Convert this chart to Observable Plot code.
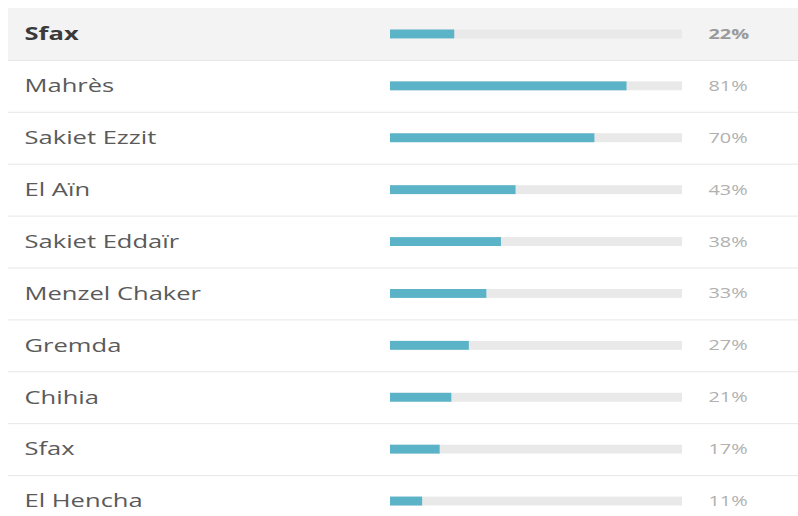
<!DOCTYPE html>
<html><head><meta charset="utf-8">
<script src="https://cdn.jsdelivr.net/npm/d3@7"></script>
<script src="https://cdn.jsdelivr.net/npm/@observablehq/plot@0.6"></script>
<style>body{margin:0;background:#fff;font-family:"Open Sans",sans-serif}</style>
</head><body><div id="chart"></div>
<script>
const labels = ["Sfax","Mahrès","Sakiet Ezzit","El Aïn","Sakiet Eddaïr","Menzel Chaker","Gremda","Chihia","Sfax","El Hencha"];
const values = [22,81,70,43,38,33,27,21,17,11];
const highlighted = [true,false,false,false,false,false,false,false,false,false];

const rows = labels.map((label, i) => ({i, label, value: values[i], hl: highlighted[i]}));
const seps = rows.slice(1).map(d => d.i);
const hlRows = rows.filter(d => d.hl);
const plainRows = rows.filter(d => !d.hl);

const labelText = (data, weight, color) => Plot.text(data, {y: d => d.i + 0.5, text: "label", frameAnchor: "left", dx: 16, textAnchor: "start",
  fontSize: 18, fill: color, fontWeight: weight, className: "stretch"});
const pctText = (data, weight, color) => Plot.text(data, {y: d => d.i + 0.5, text: d => d.value + "%", frameAnchor: "right", dx: -90, textAnchor: "start",
  fontSize: 14, fill: color, fontWeight: weight, className: "stretch"});

const chart = Plot.plot({
  width: 798, height: 516,
  marginLeft: 8, marginRight: 0, marginTop: 0, marginBottom: 0,
  x: {domain: [0, 100], range: [390, 682], axis: null},
  y: {domain: [0, 10], range: [8, 527], axis: null},
  style: {fontFamily: "'Open Sans', sans-serif", background: "#fff"},
  marks: [
    Plot.rect(hlRows, {y1: "i", y2: d => d.i + 1, fill: "#f3f3f3"}),
    Plot.ruleY(seps, {stroke: "#e6e6e6", strokeWidth: 1}),
    Plot.rectX(rows, {x1: 0, x2: 100, y1: "i", y2: d => d.i + 1, insetTop: 21.5, insetBottom: 21.5, fill: "#e9e9e9"}),
    Plot.rectX(rows, {x1: 0, x2: "value", y1: "i", y2: d => d.i + 1, insetTop: 21.5, insetBottom: 21.5, fill: "#5bb3c8"}),
    labelText(hlRows, "bold", "#3a3a3a"),
    labelText(plainRows, "normal", "#5a5a5a"),
    pctText(hlRows, "bold", "#9a9a9a"),
    pctText(plainRows, "normal", "#b0b0b0")
  ]
});
// the reference text is drawn horizontally stretched
d3.select(chart).selectAll("g.stretch text").each(function() {
  const t = this.getAttribute("transform") || "";
  this.setAttribute("transform", t + " scale(1.42,1)");
});
document.getElementById("chart").appendChild(chart);
</script></body></html>
